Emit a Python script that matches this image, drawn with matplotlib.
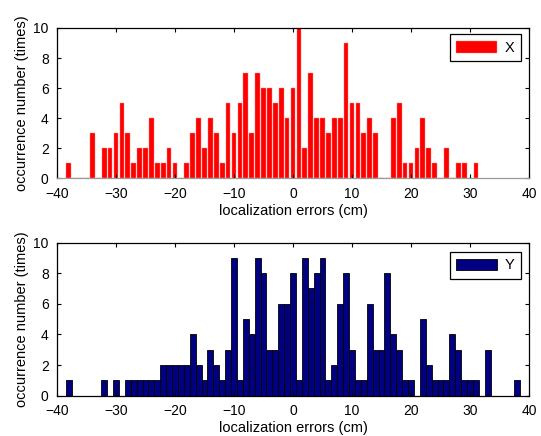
import numpy as np
import matplotlib
matplotlib.use("Agg")
import matplotlib.pyplot as plt

# error bins (cm) and occurrence counts
x_centers = list(range(-38, 32))
x_counts = [1, 0, 0, 0, 3, 0, 2, 2, 3, 5, 3, 1, 2, 2, 4, 1, 1, 2, 1, 0,
            1, 3, 4, 2, 4, 3, 1, 5, 3, 5, 7, 3, 7, 6, 6, 5, 6, 4, 6, 10,
            2, 7, 4, 4, 3, 4, 4, 9, 5, 5, 3, 4, 3, 0, 0, 4, 5, 1, 1, 2,
            4, 2, 1, 0, 2, 0, 1, 1, 0, 1]

y_centers = list(range(-38, 39))
y_counts = [1, 0, 0, 0, 0, 0, 1, 0, 1, 0, 1, 1, 1, 1, 1, 1, 2, 2, 2, 2,
            2, 4, 2, 1, 3, 2, 1, 3, 9, 1, 5, 4, 9, 8, 3, 3, 6, 6, 8, 1,
            9, 7, 8, 9, 1, 2, 6, 8, 3, 1, 1, 6, 3, 3, 8, 4, 3, 1, 1, 0,
            5, 2, 1, 1, 1, 4, 3, 1, 1, 1, 0, 3, 0, 0, 0, 0, 1]

xticks = [-40, -30, -20, -10, 0, 10, 20, 30, 40]
yticks = [0, 2, 4, 6, 8, 10]

plt.rcParams['font.family'] = ['Liberation Sans', 'DejaVu Sans']
plt.rcParams['font.size'] = 10

fig = plt.figure(figsize=(5.41, 4.36), dpi=100)
ax1 = fig.add_axes([0.1054, 0.5906, 0.8725, 0.3452])
ax2 = fig.add_axes([0.1054, 0.0924, 0.8725, 0.3514])


def style(ax):
    ax.set_xlim(-40, 40)
    ax.set_ylim(0, 10)
    ax.set_xticks(xticks)
    ax.set_yticks(yticks)
    ax.tick_params(direction='in', top=True, right=True, length=3, width=0.8,
                   labelsize=10)
    ax.tick_params(axis='x', pad=6)
    ax.tick_params(axis='y', pad=6)
    for s in ax.spines.values():
        s.set_linewidth(0.9)
    ax.set_xlabel('localization errors (cm)', fontsize=10.5, labelpad=2)
    ax.set_ylabel('occurrence number (times)', fontsize=10.5, labelpad=3)


ax1.bar(x_centers, x_counts, width=0.8, color='#ff0000', edgecolor='#ff8080',
        linewidth=0.3, label='X')
style(ax1)
ax1.spines['bottom'].set_color('0.6')
ax1.legend(loc='upper right', bbox_to_anchor=(0.982, 0.96), borderaxespad=0,
           fancybox=False, edgecolor='black', framealpha=1, handlelength=2.8,
           handleheight=0.95, handletextpad=0.5, borderpad=0.45, fontsize=10.5
           ).get_frame().set_linewidth(0.9)

ax2.bar(y_centers, y_counts, width=1.0, color='#000080', edgecolor='black',
        linewidth=0.6, label='Y')
style(ax2)
ax2.legend(loc='upper right', bbox_to_anchor=(0.982, 0.94), borderaxespad=0,
           fancybox=False, edgecolor='black', framealpha=1, handlelength=2.8,
           handleheight=0.75, handletextpad=0.5, borderpad=0.45, fontsize=10.5
           ).get_frame().set_linewidth(0.9)

fig.savefig('out.png', dpi=100)
